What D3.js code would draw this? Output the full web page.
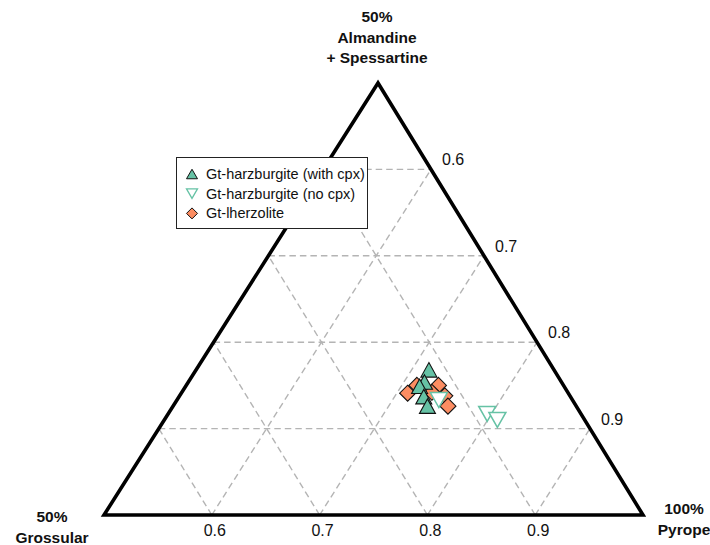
<!DOCTYPE html>
<html>
<head>
<meta charset="utf-8">
<script src="https://cdn.jsdelivr.net/npm/d3@7"></script>
<style>
  html, body { margin: 0; padding: 0; background: #fff; }
  svg { display: block; font-family: "Liberation Sans", Arial, sans-serif; }
</style>
</head>
<body>
<svg id="chart" width="710" height="545"></svg>
<script>
// Garnet compositions as mole fractions: pyrope, grossular, almandine + spessartine
const harzCpxPy   = [0.716, 0.719, 0.717, 0.727, 0.736];
const harzCpxGros = [0.116, 0.127, 0.134, 0.136, 0.138];
const harzCpxAlm  = [0.168, 0.154, 0.149, 0.137, 0.126];

const harzNoCpxPy   = [0.743, 0.796, 0.809];
const harzNoCpxGros = [0.124, 0.087, 0.081];
const harzNoCpxAlm  = [0.133, 0.117, 0.110];

const lherzPy   = [0.710, 0.714, 0.734, 0.746, 0.755, 0.732];
const lherzGros = [0.149, 0.136, 0.116, 0.116, 0.119, 0.126];
const lherzAlm  = [0.141, 0.150, 0.150, 0.138, 0.126, 0.142];

const tickValues = [0.6, 0.7, 0.8, 0.9];
const tickLabels = ["0.6", "0.7", "0.8", "0.9"];
const seriesNames = ["Gt-harzburgite (with cpx)", "Gt-harzburgite (no cpx)", "Gt-lherzolite"];

const GREEN = "#66c2a5", ORANGE = "#fc8d62";

const svg = d3.select("#chart");

// Corner positions of the sub-triangle (50% Alm+Sps / 50% Grs / 100% Prp)
const T = [378, 83], L = [104, 515], R = [643, 515];

// Each component maps onto the weight of its own corner
const wTop   = d3.scaleLinear().domain([0, 0.5]).range([0, 1]);   // almandine + spessartine
const wLeft  = d3.scaleLinear().domain([0, 0.5]).range([0, 1]);   // grossular
const wRight = d3.scaleLinear().domain([0.5, 1]).range([0, 1]);   // pyrope

function project(py, gros, alm) {
  const a = wTop(alm), b = wLeft(gros), c = wRight(py);
  return [a * T[0] + b * L[0] + c * R[0], a * T[1] + b * L[1] + c * R[1]];
}

// Dashed grid
const grid = svg.append("g")
  .attr("fill", "none").attr("stroke", "#b4b4b4")
  .attr("stroke-width", 1.4).attr("stroke-dasharray", "6.5,4");
const line = d3.line();
tickValues.forEach(p => {
  const q = 1 - p;
  // constant almandine + spessartine (horizontal)
  grid.append("path").attr("d", line([project(0.5, p - 0.5, q), project(p, 0, q)]));
  // constant pyrope (parallel to left side)
  grid.append("path").attr("d", line([project(p, q, 0), project(p, 0, q)]));
  // constant grossular (parallel to right side)
  grid.append("path").attr("d", line([project(p, q, 0), project(0.5, q, p - 0.5)]));
});

// Triangle outline
svg.append("path")
  .attr("d", line([project(0.5, 0, 0.5), project(0.5, 0.5, 0), project(1, 0, 0)]) + "Z")
  .attr("fill", "none").attr("stroke", "#000").attr("stroke-width", 3.6)
  .attr("stroke-linejoin", "miter");

// Tick labels along the base (grossular side -> pyrope)
svg.append("g").selectAll("text").data(tickValues).join("text")
  .attr("x", (d) => project(d, 1 - d, 0)[0] + 3)
  .attr("y", 536)
  .attr("text-anchor", "middle").attr("font-size", 16).attr("fill", "#111")
  .text((d, i) => tickLabels[i]);

// Tick labels along the right side
svg.append("g").selectAll("text").data(tickValues).join("text")
  .attr("x", (d) => project(d, 0, 1 - d)[0] + 11)
  .attr("y", (d) => project(d, 0, 1 - d)[1] - 4)
  .attr("text-anchor", "start").attr("font-size", 16).attr("fill", "#111")
  .text((d, i) => tickLabels[i]);

// Corner titles
function cornerTitle(lines, x, y0, dy) {
  const t = svg.append("text").attr("text-anchor", "middle")
    .attr("font-size", 15.5).attr("font-weight", "bold").attr("fill", "#111");
  lines.forEach((s, i) => t.append("tspan").attr("x", x).attr("y", y0 + i * dy).text(s));
}
cornerTitle(["50%", "Almandine", "+ Spessartine"], 377, 22, 20.5);
cornerTitle(["50%", "Grossular"], 52, 522, 20.5);
cornerTitle(["100%", "Pyrope"], 684, 514, 20.5);

// Marker shapes
const upTri = (w, h) => `M0,${-h / 2}L${w / 2},${h / 2}L${-w / 2},${h / 2}Z`;
const downTri = (w, h) => `M0,${h / 2}L${w / 2},${-h / 2}L${-w / 2},${-h / 2}Z`;
const diamond = (r) => `M0,${-r}L${r},0L0,${r}L${-r},0Z`;

const pts = (pyArr, grArr, alArr) => pyArr.map((p, i) => project(p, grArr[i], alArr[i]));

// Gt-lherzolite
svg.append("g").selectAll("path").data(pts(lherzPy, lherzGros, lherzAlm)).join("path")
  .attr("d", diamond(8))
  .attr("transform", (d) => `translate(${d[0]},${d[1]})`)
  .attr("fill", ORANGE).attr("stroke", "#111").attr("stroke-width", 1.1);

// Gt-harzburgite with cpx
svg.append("g").selectAll("path").data(pts(harzCpxPy, harzCpxGros, harzCpxAlm)).join("path")
  .attr("d", upTri(16, 14.5))
  .attr("transform", (d) => `translate(${d[0]},${d[1]})`)
  .attr("fill", GREEN).attr("stroke", "#111").attr("stroke-width", 1.1);

// Gt-harzburgite without cpx
svg.append("g").selectAll("path").data(pts(harzNoCpxPy, harzNoCpxGros, harzNoCpxAlm)).join("path")
  .attr("d", downTri(17, 15))
  .attr("transform", (d) => `translate(${d[0]},${d[1]})`)
  .attr("fill", "#fff").attr("stroke", GREEN).attr("stroke-width", 1.5);

// Legend
const legend = svg.append("g");
legend.append("rect")
  .attr("x", 176.5).attr("y", 157.5).attr("width", 191).attr("height", 71)
  .attr("fill", "#fff").attr("stroke", "#222").attr("stroke-width", 1);
const legendMarks = [
  { d: upTri(11, 9.5), fill: GREEN, stroke: "#111", sw: 1 },
  { d: downTri(11, 9.5), fill: "#fff", stroke: GREEN, sw: 1.3 },
  { d: diamond(5.5), fill: ORANGE, stroke: "#111", sw: 1 }
];
seriesNames.forEach((name, i) => {
  const cy = 174 + i * 19.7;
  legend.append("path").attr("d", legendMarks[i].d)
    .attr("transform", `translate(192,${cy})`)
    .attr("fill", legendMarks[i].fill).attr("stroke", legendMarks[i].stroke)
    .attr("stroke-width", legendMarks[i].sw);
  legend.append("text").attr("x", 206).attr("y", cy + 5)
    .attr("font-size", 14.5).attr("fill", "#111").text(name);
});
</script>
</body>
</html>
